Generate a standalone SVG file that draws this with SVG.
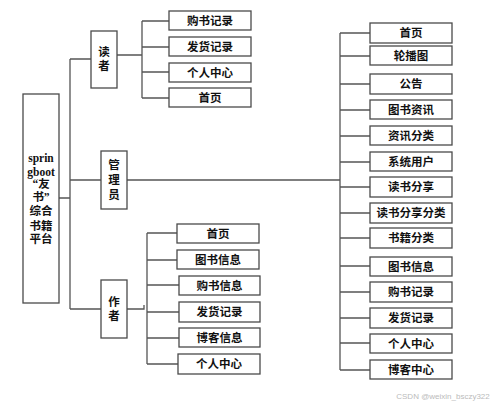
<svg xmlns="http://www.w3.org/2000/svg" width="500" height="406" viewBox="0 0 500 406">
<style>
.box{fill:#fff;stroke:#4a4a4a;stroke-width:1.3}
.ln{fill:none;stroke:#555;stroke-width:1.3}
text{font-family:"Liberation Serif","Noto Sans CJK SC",serif;font-weight:bold;font-size:11.5px;fill:#111;text-anchor:middle;dominant-baseline:central}
.wm{font-family:"Liberation Sans",sans-serif;font-weight:normal;font-size:8px;fill:#bbb}
</style>
<rect width="500" height="406" fill="#fff"/>
<g id="connectors" class="ln">
<path d="M59,198H70M70,59V309M70,59H91M70,180H101M70,309H101"/>
<path d="M117,55H142M142,21V98M142,21H169M142,47H169M142,72H169M142,98H169"/>
<path d="M127,180H340M340,33V370M340,33H370M340,56H370M340,84H370M340,110H370M340,136H370M340,162H370M340,187H370M340,213H370M340,238H370M340,266H370M340,292H370M340,318H370M340,343H370M340,370H370"/>
<path d="M127,309H144V305M147,233V364M147,233H177M147,260H177M147,285H179M147,312H179M147,338H179M147,364H178"/>
</g>
<g id="root"><rect class="box" x="23" y="94" width="36" height="209"/>
<text x="41" y="158">sprin</text><text x="41" y="172">gboot</text><text x="41" y="184">“友</text><text x="41" y="197">书”</text><text x="41" y="211">综合</text><text x="41" y="226">书籍</text><text x="41" y="239">平台</text></g>
<g id="reader"><rect class="box" x="91" y="31" width="26" height="57"/><text x="104" y="52">读</text><text x="104" y="66">者</text></g>
<g id="admin"><rect class="box" x="101" y="151" width="26" height="58"/><text x="114" y="165">管</text><text x="114" y="180">理</text><text x="114" y="195">员</text></g>
<g id="author"><rect class="box" x="101" y="280" width="26" height="58"/><text x="114" y="302">作</text><text x="114" y="316">者</text></g>
<g id="r1"><rect class="box" x="169" y="11" width="82" height="19"/><text x="210" y="20.5">购书记录</text></g>
<g id="r2"><rect class="box" x="169" y="37" width="82" height="19"/><text x="210" y="46.5">发货记录</text></g>
<g id="r3"><rect class="box" x="169" y="63" width="82" height="19"/><text x="210" y="72.5">个人中心</text></g>
<g id="r4"><rect class="box" x="169" y="88" width="82" height="19"/><text x="210" y="97.5">首页</text></g>
<g id="m1"><rect class="box" x="370" y="23" width="82" height="20"/><text x="411" y="33">首页</text></g>
<g id="m2"><rect class="box" x="370" y="46" width="82" height="19"/><text x="411" y="55.5">轮播图</text></g>
<g id="m3"><rect class="box" x="370" y="74" width="82" height="20"/><text x="411" y="84">公告</text></g>
<g id="m4"><rect class="box" x="370" y="100" width="82" height="19"/><text x="411" y="109.5">图书资讯</text></g>
<g id="m5"><rect class="box" x="370" y="126" width="82" height="19"/><text x="411" y="135.5">资讯分类</text></g>
<g id="m6"><rect class="box" x="370" y="152" width="82" height="19"/><text x="411" y="161.5">系统用户</text></g>
<g id="m7"><rect class="box" x="370" y="177" width="82" height="20"/><text x="411" y="187">读书分享</text></g>
<g id="m8"><rect class="box" x="370" y="203" width="82" height="20"/><text x="411" y="213">读书分享分类</text></g>
<g id="m9"><rect class="box" x="370" y="228" width="82" height="20"/><text x="411" y="238">书籍分类</text></g>
<g id="m10"><rect class="box" x="370" y="257" width="82" height="19"/><text x="411" y="266.5">图书信息</text></g>
<g id="m11"><rect class="box" x="370" y="282" width="82" height="20"/><text x="411" y="292">购书记录</text></g>
<g id="m12"><rect class="box" x="370" y="308" width="82" height="20"/><text x="411" y="318">发货记录</text></g>
<g id="m13"><rect class="box" x="370" y="334" width="82" height="19"/><text x="411" y="343.5">个人中心</text></g>
<g id="m14"><rect class="box" x="370" y="360" width="82" height="19"/><text x="411" y="369.5">博客中心</text></g>
<g id="a1"><rect class="box" x="177" y="224" width="82" height="19"/><text x="218" y="233.5">首页</text></g>
<g id="a2"><rect class="box" x="177" y="250" width="82" height="19"/><text x="218" y="259.5">图书信息</text></g>
<g id="a3"><rect class="box" x="179" y="276" width="81" height="19"/><text x="219.5" y="285.5">购书信息</text></g>
<g id="a4"><rect class="box" x="179" y="302" width="81" height="20"/><text x="219.5" y="312">发货记录</text></g>
<g id="a5"><rect class="box" x="179" y="328" width="81" height="19"/><text x="219.5" y="337.5">博客信息</text></g>
<g id="a6"><rect class="box" x="178" y="354" width="82" height="20"/><text x="219" y="364">个人中心</text></g>
<text class="wm" x="443" y="396">CSDN @weixin_bsczy322</text>
</svg>
